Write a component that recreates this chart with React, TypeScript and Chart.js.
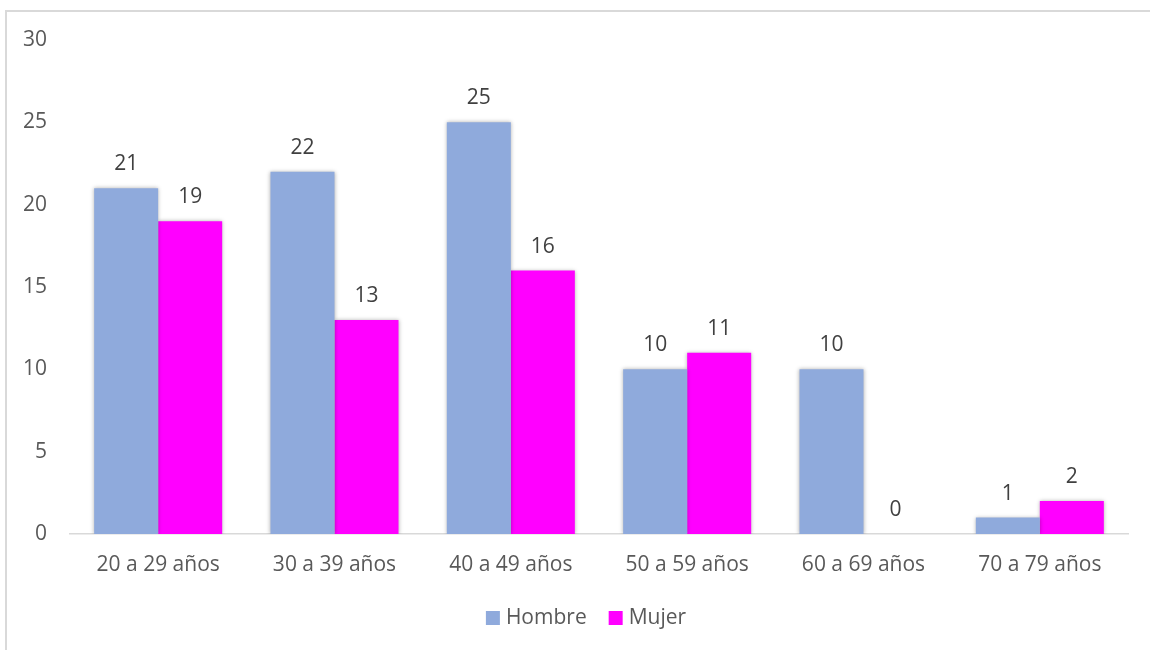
import React, { useEffect, useRef } from "react";
import { Chart, registerables } from "chart.js";

Chart.register(...registerables);

const categories = ["20 a 29 años", "30 a 39 años", "40 a 49 años", "50 a 59 años", "60 a 69 años", "70 a 79 años"];
const hombre = [21, 22, 25, 10, 10, 1];
const mujer = [19, 13, 16, 11, 0, 2];
const yTicks = [0, 5, 10, 15, 20, 25, 30];

const FONT = "'Open Sans', sans-serif";
const COLORS = ["#8FAADC", "#FF00FF"];

const labelPlugin = {
  id: "barLabels",
  afterDatasetsDraw(chart: any) {
    const ctx = chart.ctx;
    ctx.save();
    ctx.fillStyle = "#404040";
    ctx.font = `21px ${FONT}`;
    ctx.textAlign = "center";
    ctx.textBaseline = "middle";
    chart.data.datasets.forEach((ds: any, i: number) => {
      const meta = chart.getDatasetMeta(i);
      meta.data.forEach((bar: any, j: number) => {
        ctx.fillText(String(ds.data[j]), bar.x, bar.y - 24);
      });
    });
    ctx.restore();
  },
};

const legendPlugin = {
  id: "customLegend",
  afterDraw(chart: any) {
    const ctx = chart.ctx;
    ctx.save();
    ctx.font = `21px ${FONT}`;
    ctx.textBaseline = "middle";
    const box = 14;
    const gap = 6;
    const itemGap = 22;
    const items = chart.data.datasets.map((ds: any) => ({ label: ds.label, color: ds.backgroundColor, w: box + gap + ctx.measureText(ds.label).width }));
    const total = items.reduce((a: number, it: any) => a + it.w, 0) + itemGap * (items.length - 1);
    let x = 586 - total / 2;
    const y = 618;
    items.forEach((it: any) => {
      ctx.fillStyle = it.color;
      ctx.fillRect(x, y - box / 2, box, box);
      ctx.fillStyle = "#595959";
      ctx.textAlign = "left";
      ctx.fillText(it.label, x + box + gap, y);
      x += it.w + itemGap;
    });
    ctx.restore();
  },
};

const shadowPlugin = {
  id: "barShadow",
  beforeDatasetsDraw(chart: any) {
    const ctx = chart.ctx;
    ctx.save();
    ctx.shadowColor = "rgba(0,0,0,0.3)";
    ctx.shadowBlur = 4;
    ctx.shadowOffsetX = 0;
    ctx.shadowOffsetY = 0;
  },
  afterDatasetsDraw(chart: any) {
    chart.ctx.restore();
  },
};

export default function App() {
  const ref = useRef<HTMLCanvasElement | null>(null);
  useEffect(() => {
    if (!ref.current) return;
    const chart = new Chart(ref.current, {
      type: "bar",
      data: {
        labels: categories,
        datasets: [
          { label: "Hombre", data: hombre, backgroundColor: COLORS[0], barPercentage: 1, categoryPercentage: 0.726 },
          { label: "Mujer", data: mujer, backgroundColor: COLORS[1], barPercentage: 1, categoryPercentage: 0.726 },
        ],
      },
      options: {
        animation: false,
        responsive: false,
        layout: { padding: { left: 0, right: 22, top: 40, bottom: 60 } },
        plugins: {
          tooltip: { enabled: false },
          legend: { display: false },
        },
        scales: {
          x: {
            grid: { display: false, drawTicks: false },
            border: { display: true, color: "#D9D9D9", width: 1.5 },
            ticks: { color: "#595959", font: { family: FONT, size: 21 }, padding: 18 },
            afterFit: (s: any) => { s.height = 56; },
          },
          y: {
            min: 0,
            max: 30,
            afterBuildTicks: (s: any) => { s.ticks = yTicks.map((v) => ({ value: v })); },
            grid: { display: false, drawTicks: false },
            border: { display: false },
            ticks: { color: "#595959", font: { family: FONT, size: 21 }, padding: 23 },
            afterFit: (s: any) => { s.width = 70; },
          },
        },
      },
      plugins: [shadowPlugin, labelPlugin, legendPlugin],
    });
    return () => chart.destroy();
  }, []);
  return (
    <div style={{ position: "absolute", left: 0, top: 0, width: 1150, height: 650, background: "#fff", overflow: "hidden" }}>
      <div style={{ position: "absolute", left: 5, top: 10, width: 1200, height: 700, borderTop: "2px solid #D9D9D9", borderLeft: "2px solid #D9D9D9", boxSizing: "border-box" }} />
      <canvas ref={ref} width={1150} height={650} style={{ position: "absolute", left: 0, top: 0 }} />
    </div>
  );
}
